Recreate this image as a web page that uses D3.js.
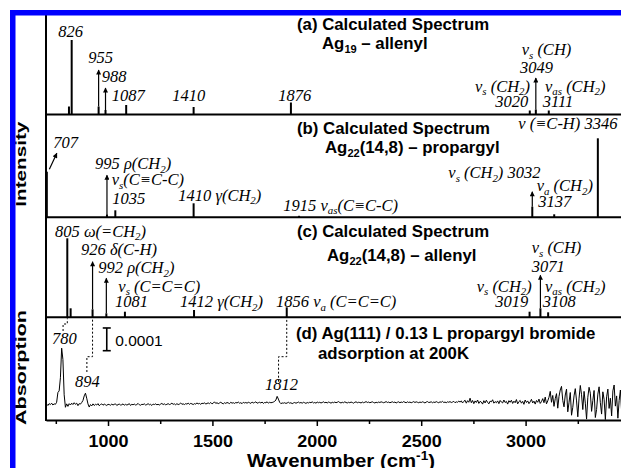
<!DOCTYPE html>
<html>
<head>
<meta charset="utf-8">
<script src="https://cdn.jsdelivr.net/npm/d3@7"></script>
<style>
  html, body { margin: 0; padding: 0; background: #fff; }
  svg { display: block; }
</style>
</head>
<body>
<svg id="chart" width="621" height="468"></svg>
<script>
// ---------- data ----------
const majorTicks = [1000, 1500, 2000, 2500, 3000];
const minorTicks = [750, 1250, 1750, 2250, 2750, 3250];

// (a) Ag19 – allenyl : mode positions (cm-1) and intensities (a.u.)
const peaksA = [813, 826, 955, 988, 1087, 1410, 1876, 3020, 3049, 3111];
const intensA = [8, 74.5, 8, 4.5, 9.5, 7.5, 12, 4, 5, 4];
const arrowPeaksA = [955, 988, 3049];
const arrowTipsA = [44.5, 26.5, 36.5];

// (b) Ag22(14,8) – propargyl
const peaksB = [707, 995, 1035, 1410, 1915, 3032, 3137, 3346];
const intensB = [45.6, 3, 7, 14, 1.5, 10.6, 3, 79];
const arrowPeaksB = [995, 3032];
const arrowTipsB = [42, 25.6];

// (c) Ag22(14,8) – allenyl
const peaksC = [805, 821, 926, 992, 1081, 1412, 1856, 3019, 3071, 3108];
const intensC = [79, 9, 8, 4, 5.6, 7.3, 10, 5.6, 9, 5];
const arrowPeaksC = [926, 992, 3071];
const arrowTipsC = [55.6, 39, 42];

// (d) measured RAIRS spectrum, absorbance in units of 1e-6, sampled every 6 cm-1 from 706 cm-1
const specStart = 706;
const specStep = 6;
const absorbance = [
  4, -2, 6, 2, 8, 0, 5, 3, 12, 55,
  62, 120, 250, 200, 45, -10, 5, -6, 6, 0,
  8, 2, 10, 3, 8, -3, 6, 4, 11, 20,
  40, 52, 30, 5, -9, 2, -4, 5, -2, 3,
  0, 6, -3, 2, 5, -1, 4, 1, -2, 3,
  2, -1, 4, 0, 3, 5, -2, 2, 4, 0,
  1, 5, -1, 3, 0, 2, 6, -2, 3, 1,
  4, 0, 2, 7, 1, -1, 3, 2, 5, 0,
  2, 6, 1, 3, -2, 4, 2, 5, 1, 3,
  0, 4, 7, 2, 5, 1, 3, 6, 2, 4,
  8, 3, 5, 1, 6, 2, 4, 9, 3, 5,
  2, 6, 4, 8, 3, 7, 5, 2, 6, 4,
  9, 5, 7, 3, 8, 6, 10, 4, 7, 9,
  6, 11, 5, 8, 14, 7, 10, 6, 9, 12,
  8, 5, 10, 7, 11, 9, 6, 12, 8, 10,
  7, 11, 9, 13, 8, 10, 6, 12, 9, 11,
  8, 12, 10, 7, 13, 9, 11, 14, 8, 10,
  12, 9, 13, 7, 11, 10, 14, 8, 12, 10,
  11, 13, 16, 22, 38, 26, 12, 6, 9, 8,
  10, 7, 9, 12, 8, 10, 6, 9, 11, 8,
  10, 13, 9, 11, 8, 12, 10, 7, 11, 9,
  12, 10, 14, 9, 11, 8, 13, 10, 12, 9,
  11, 14, 10, 12, 9, 13, 11, 8, 12, 10,
  13, 10, 12, 15, 11, 9, 12, 10, 14, 11,
  9, 12, 10, 13, 11, 8, 12, 14, 10, 12,
  11, 9, 13, 10, 12, 15, 11, 13, 10, 12,
  14, 11, 9, 12, 10, 13, 11, 14, 12, 10,
  12, 15, 11, 13, 10, 12, 14, 11, 13, 9,
  12, 14, 10, 13, 11, 15, 12, 10, 14, 11,
  13, 10, 12, 15, 11, 14, 12, 10, 13, 11,
  14, 12, 9, 13, 15, 11, 12, 14, 10, 13,
  11, 15, 12, 10, 14, 12, 16, 11, 13, 10,
  14, 12, 15, 11, 13, 16, 10, 14, 12, 17,
  13, 18, 9, 16, 21, 8, 19, 12, 30, 10,
  20, 6, 18, 11, 22, 7, 16, 13, 4, 19,
  9, 21, 12, 5, 17, 14, 23, 8, 15, 10,
  18, 6, 20, 13, 9, 22, 11, 16, 4, 19,
  12, 21, 7, 17, 10, 24, 5, 15, 20, 8,
  16, 3, 22, 11, 18, 6, 14, 25, 9, 17,
  4, 20, 12, 26, 7, 15, 28, 10, 35, 5,
  18, 34, 60, 12, 42, -6, 28, 50, -14, 38,
  66, 82, 20, -8, 44, 70, -30, 12, 55, -45,
  -10, 40, 72, 18, -52, 30, 86, 45, -20, 60,
  8, -62, 34, 78, 52, -28, 20, 64, -55, -20,
  48, 80, 10, -40, 58, 25, -64, 36, 70, -15,
  30, -48, 62, 88, -5, 40, -58, 20, 66, -30
];

// mode labels for each panel (text uses _{..} for subscripts)
const labelTextA = ["826", "955", "988", "1087", "1410", "1876", "ν_{s} (CH)", "3049",
                    "ν_{s} (CH_{2})", "3020", "ν_{as} (CH_{2})", "3111"];
const labelTextB = ["707", "995 ρ(CH_{2})", "ν_{s}(C≡C-C)", "1035", "1410 γ(CH_{2})",
                    "1915 ν_{as}(C≡C-C)", "ν_{s} (CH_{2}) 3032", "ν_{a} (CH_{2})", "3137", "ν (≡C-H) 3346"];
const labelTextC = ["805 ω(=CH_{2})", "926 δ(C-H)", "992 ρ(CH_{2})", "ν_{s} (C=C=C)", "1081",
                    "1412 γ(CH_{2})", "1856 ν_{a} (C=C=C)", "ν_{s} (CH)", "3071", "ν_{s} (CH_{2})",
                    "3019", "ν_{as} (CH_{2})", "3108"];
const labelTextD = ["780", "894", "1812"];

// ---------- layout ----------
const plotLeft = 46, plotRight = 630;
const panelTop = 12;
const baselines = [114.5, 217.3, 317.3, 420];
const sansFont = "'Liberation Sans', Arial, Helvetica, sans-serif";
const serifFont = "'Liberation Serif', 'Times New Roman', Times, serif";

// label anchor points [x, baseline y, anchor]
const labelPosA = [[58.3, 37.3], [88.3, 63.3], [101.7, 81.7], [111.7, 101], [172.3, 101], [278.3, 101],
                   [521.7, 55], [520, 72.7], [475, 91.7], [528.3, 107.3, "end"], [545, 91.7], [542.7, 107.3]];
const labelPosB = [[53.3, 148.3], [95, 169.3], [111.7, 185], [112.3, 204], [178.3, 200.7],
                   [283.3, 210.7], [448.3, 178.3], [536.7, 191], [538.3, 206.7], [518.3, 129.3]];
const labelPosC = [[55, 236.7], [81, 255], [98.3, 273.3], [118.3, 291.7], [115, 307.3],
                   [180, 307.3], [276, 307.3], [531.7, 253.3], [531.7, 271.7], [476.7, 291.7],
                   [528.3, 307.3, "end"], [545, 291.7], [542.7, 307.3]];
const labelPosD = [[52, 344], [75, 386.7], [265, 390]];

const svg = d3.select("#chart");

const x = d3.scaleLinear().domain([703, 3500]).range([plotLeft, plotRight]);
const yPanels = baselines.slice(0, 3).map(b => d3.scaleLinear().domain([0, 100]).range([b, b - 100]));
const yAbs = d3.scaleLinear().domain([-66, 386]).range([baselines[3], baselines[2]]);

// arrowhead marker
svg.append("defs").append("marker")
  .attr("id", "arrowhead")
  .attr("viewBox", "0 0 10 10")
  .attr("refX", 9).attr("refY", 5)
  .attr("markerUnits", "userSpaceOnUse")
  .attr("markerWidth", 7).attr("markerHeight", 5)
  .attr("orient", "auto")
  .append("path").attr("d", "M0,0 L10,5 L0,10 z").attr("fill", "#000");

svg.append("defs").append("clipPath").attr("id", "clipD")
  .append("rect")
  .attr("x", plotLeft).attr("y", baselines[2])
  .attr("width", plotRight - plotLeft).attr("height", baselines[3] - baselines[2]);

// rich text helper: _{..} subscripts, ^{..} superscripts
function rich(textSel, str, size, sub, sup) {
  const parts = str.split(/([_^]\{[^}]*\})/).filter(s => s.length);
  let cur = 0;
  parts.forEach(p => {
    const m = p.match(/^([_^])\{([^}]*)\}$/);
    const target = m ? (m[1] === "_" ? sub : -sup) : 0;
    const t = textSel.append("tspan").attr("dy", target - cur).text(m ? m[2] : p);
    if (m) t.attr("font-size", size * 0.66);
    cur = target;
  });
}

// ---------- calculated stick spectra ----------
const panels = [
  { peaks: peaksA, intens: intensA, arrows: arrowPeaksA, tips: arrowTipsA, y: yPanels[0] },
  { peaks: peaksB, intens: intensB, arrows: arrowPeaksB, tips: arrowTipsB, y: yPanels[1] },
  { peaks: peaksC, intens: intensC, arrows: arrowPeaksC, tips: arrowTipsC, y: yPanels[2] }
];

panels.forEach(p => {
  const g = svg.append("g");
  const sticks = p.peaks.map((w, i) => ({ w, v: p.intens[i] }));
  g.selectAll("line.stick").data(sticks).join("line")
    .attr("class", "stick")
    .attr("x1", d => x(d.w)).attr("x2", d => x(d.w))
    .attr("y1", p.y(0)).attr("y2", d => p.y(d.v))
    .attr("stroke", "#000").attr("stroke-width", 2);
  const arrows = p.arrows.map((w, i) => ({ w, tip: p.tips[i], base: p.intens[p.peaks.indexOf(w)] }));
  g.selectAll("line.arrow").data(arrows).join("line")
    .attr("class", "arrow")
    .attr("x1", d => x(d.w)).attr("x2", d => x(d.w))
    .attr("y1", d => p.y(d.base)).attr("y2", d => p.y(d.tip))
    .attr("stroke", "#000").attr("stroke-width", 1.2)
    .attr("marker-end", "url(#arrowhead)");
});

// slanted pointer for the 707 cm-1 mode at the edge of panel (b)
svg.append("line")
  .attr("x1", x(707) + 2.5).attr("y1", yPanels[1](48))
  .attr("x2", x(707) + 10).attr("y2", yPanels[1](64))
  .attr("stroke", "#000").attr("stroke-width", 1.2)
  .attr("marker-end", "url(#arrowhead)");

// ---------- measured spectrum ----------
const specLine = d3.line()
  .x((d, i) => x(specStart + i * specStep))
  .y(d => yAbs(d));
svg.append("path")
  .datum(absorbance)
  .attr("clip-path", "url(#clipD)")
  .attr("d", specLine)
  .attr("fill", "none").attr("stroke", "#000").attr("stroke-width", 1)
  .attr("stroke-linejoin", "round");

// dashed correlation lines between observed and calculated bands
const links = [
  { from: 780, to: 805, yStart: 331, yKnee: 324 },
  { from: 894, to: 926, yStart: 372, yKnee: 356.7 },
  { from: 1812, to: 1856, yStart: 381.7, yKnee: 356.7 }
];
svg.selectAll("path.link").data(links).join("path")
  .attr("class", "link")
  .attr("d", d => `M${x(d.from) + 1},${d.yStart}V${d.yKnee}H${x(d.to)}V${baselines[2] + 1}`)
  .attr("fill", "none").attr("stroke", "#000").attr("stroke-width", 1)
  .attr("stroke-dasharray", "2,2");

// absorbance scale bar (0.0001)
const sbX = x(994);
const sbG = svg.append("g").attr("stroke", "#000").attr("stroke-width", 1.6);
sbG.append("line").attr("x1", sbX).attr("x2", sbX).attr("y1", yAbs(239)).attr("y2", yAbs(339));
sbG.append("line").attr("x1", sbX - 4).attr("x2", sbX + 4).attr("y1", yAbs(239)).attr("y2", yAbs(239));
sbG.append("line").attr("x1", sbX - 4).attr("x2", sbX + 4).attr("y1", yAbs(339)).attr("y2", yAbs(339));
svg.append("text").attr("x", sbX + 8.5).attr("y", 345.5)
  .attr("font-family", sansFont).attr("font-size", 15.5).text("0.0001");

// ---------- frame / axes ----------
svg.append("line").attr("x1", plotLeft).attr("x2", plotLeft)
  .attr("y1", panelTop).attr("y2", baselines[3] + 1)
  .attr("stroke", "#000").attr("stroke-width", 2);
baselines.slice(0, 3).forEach(b => {
  svg.append("line").attr("x1", plotLeft).attr("x2", plotRight)
    .attr("y1", b).attr("y2", b).attr("stroke", "#000").attr("stroke-width", 2);
});

const xAxis = svg.append("g").attr("transform", `translate(0,${baselines[3]})`)
  .call(d3.axisBottom(x).tickValues(majorTicks).tickSize(6).tickSizeOuter(0).tickFormat(d3.format("d")));
xAxis.select(".domain").attr("stroke-width", 2);
xAxis.selectAll(".tick line").attr("stroke-width", 1.5);
xAxis.selectAll(".tick text")
  .attr("font-family", sansFont).attr("font-size", 17).attr("font-weight", "bold")
  .attr("y", 26.7).attr("dy", 0)
  .attr("textLength", 40).attr("lengthAdjust", "spacingAndGlyphs");
svg.append("g").attr("transform", `translate(0,${baselines[3]})`)
  .call(d3.axisBottom(x).tickValues(minorTicks).tickSize(4).tickSizeOuter(0).tickFormat(""))
  .call(g => g.select(".domain").remove())
  .selectAll(".tick line").attr("stroke-width", 1.5);

const xTitle = svg.append("text")
  .attr("x", 247).attr("y", 467)
  .attr("font-family", sansFont).attr("font-size", 18).attr("font-weight", "bold")
  .attr("textLength", 188).attr("lengthAdjust", "spacingAndGlyphs");
xTitle.append("tspan").text("Wavenumber (cm");
xTitle.append("tspan").attr("dy", -7).attr("font-size", 12).text("-1");
xTitle.append("tspan").attr("dy", 7).text(")");

[["Intensity", 164.2, 85], ["Absorption", 367.5, 115]].forEach(([t, cy, len]) => {
  svg.append("text")
    .attr("transform", `translate(25.5,${cy}) rotate(-90)`)
    .attr("text-anchor", "middle")
    .attr("font-family", sansFont).attr("font-size", 14.5).attr("font-weight", "bold")
    .attr("textLength", len).attr("lengthAdjust", "spacingAndGlyphs")
    .text(t);
});

// ---------- panel titles ----------
const titles = [
  ["(a) Calculated Spectrum", 297, 30], ["Ag_{19} – allenyl", 322, 49],
  ["(b) Calculated Spectrum", 297, 134], ["Ag_{22}(14,8) – propargyl", 325, 152.5],
  ["(c) Calculated Spectrum", 297, 236.5], ["Ag_{22}(14,8) – allenyl", 327, 261],
  ["(d) Ag(111) / 0.13 L propargyl bromide", 296, 338.5], ["adsorption at 200K", 318, 358.5]
];
titles.forEach(([t, tx, ty]) => {
  const el = svg.append("text").attr("x", tx).attr("y", ty)
    .attr("font-family", sansFont).attr("font-size", 16.8).attr("font-weight", "bold");
  rich(el, t, 16.8, 4, 6);
});

// ---------- mode labels ----------
[[labelTextA, labelPosA], [labelTextB, labelPosB], [labelTextC, labelPosC], [labelTextD, labelPosD]]
  .forEach(([texts, pos]) => {
    texts.forEach((t, i) => {
      const [lx, ly, anchor] = pos[i];
      const el = svg.append("text").attr("x", lx).attr("y", ly)
        .attr("font-family", serifFont).attr("font-size", 16.5).attr("font-style", "italic")
        .attr("text-anchor", anchor || "start");
      rich(el, t, 16.5, 3.5, 6);
    });
  });

// ---------- blue border ----------
svg.append("rect").attr("x", 10).attr("y", 10).attr("width", 611).attr("height", 5.5).attr("fill", "#0000fe");
svg.append("rect").attr("x", 10).attr("y", 10).attr("width", 5.5).attr("height", 458).attr("fill", "#0000fe");
</script>
</body>
</html>
